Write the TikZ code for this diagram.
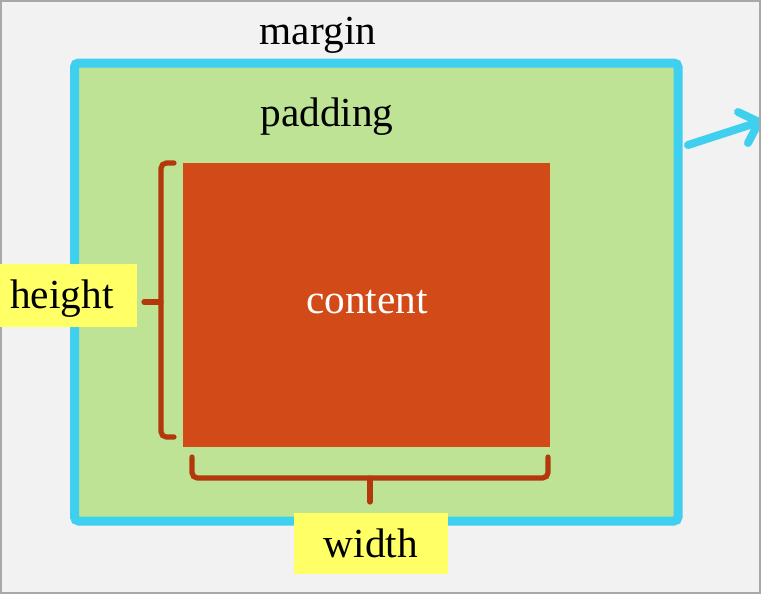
\documentclass[tikz,border=0pt]{standalone}
\usepackage{fontspec}
\setmainfont{Liberation Serif}
\definecolor{bg}{HTML}{F2F2F2}
\definecolor{frame}{HTML}{A8A8A8}
\definecolor{padgreen}{HTML}{BFE394}
\definecolor{borderblue}{HTML}{3FD0F0}
\definecolor{contentorange}{HTML}{D24A17}
\definecolor{bracecol}{HTML}{B3390D}
\definecolor{labelyellow}{HTML}{FFFF66}
\tikzset{
  lbl/.style={font=\fontsize{31pt}{36pt}\selectfont, anchor=base, inner sep=0pt, text=black},
  bracestyle/.style={draw=bracecol, line width=3.9pt, rounded corners=4pt, line cap=round},
  arrowstyle/.style={draw=borderblue, line width=6pt, line cap=round, line join=round},
}
\begin{document}
\begin{tikzpicture}[x=0.75pt,y=-0.75pt]
\useasboundingbox (0,0) rectangle (761,594);
% background
\fill[bg] (0,0) rectangle (761,594);
% padding box with border
\draw[fill=padgreen, draw=borderblue, line width=6.75pt, rounded corners=3pt] (74.5,63) rectangle (678,521);
% content
\fill[contentorange] (183,163) rectangle (550,447);
% texts
\node[lbl] (margin) at (318,44) {margin};
\node[lbl] (padding) at (327,126) {padding};
\node[lbl, text=white] (content) at (367,313) {content};
% left brace
\coordinate (lbTop) at (174,163);
\coordinate (lbBot) at (174,437);
\coordinate (lbTip) at (144,302);
\draw[bracestyle] (lbTop) -- (161,163) -- (161,437) -- (lbBot);
\draw[bracestyle, rounded corners=0pt] (161,302) -- (lbTip);
% bottom brace
\coordinate (bbLeft) at (192,457);
\coordinate (bbRight) at (548,457);
\coordinate (bbTip) at (370,502);
\draw[bracestyle] (bbLeft) -- (192,478) -- (548,478) -- (bbRight);
\draw[bracestyle, rounded corners=0pt] (370,478) -- (bbTip);
% arrow
\coordinate (arS) at (688,145);
\coordinate (arT) at (759,122);
\coordinate (arU) at (738,112);
\coordinate (arL) at (748,143);
\draw[arrowstyle] (arS) -- (arT);
\draw[arrowstyle] (arU) -- (arT) -- (arL);
% frame
\draw[frame, line width=1.5pt] (0.6,0.6) rectangle (760.4,593.4);
% labels
\fill[labelyellow] (0,264) rectangle (137,327);
\node[lbl, anchor=base west] (height) at (10,308) {height};
\fill[labelyellow] (294,513) rectangle (448,574);
\node[lbl] (width) at (371,557) {width};
\end{tikzpicture}
\end{document}
